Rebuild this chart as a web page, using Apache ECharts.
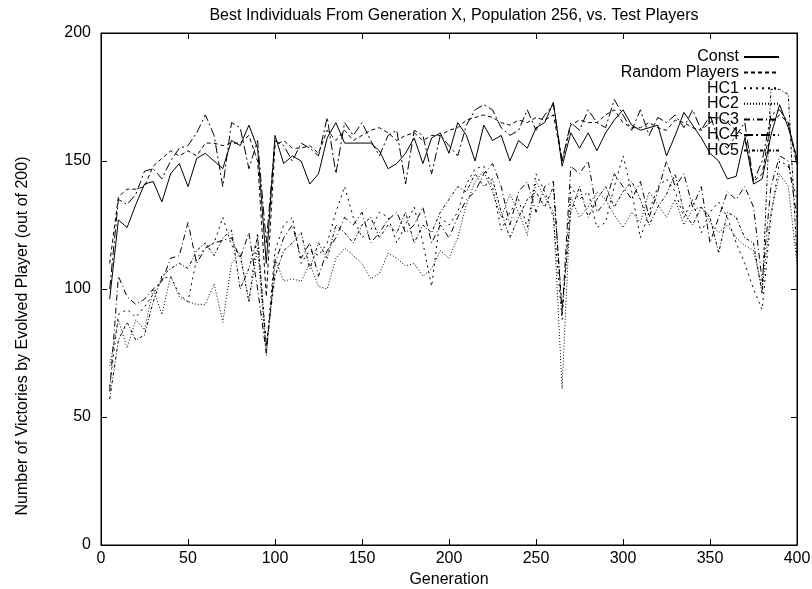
<!DOCTYPE html>
<html>
<head>
<meta charset="utf-8">
<script src="https://cdn.jsdelivr.net/npm/echarts@6/dist/echarts.min.js"></script>
<style>
  html, body { margin: 0; padding: 0; background: #fff; }
  #chart { width: 812px; height: 589px; }
</style>
</head>
<body>
<div id="chart"></div>
<script>
// generation numbers (x)
const gens = [5,10,15,20,25,30,35,40,45,50,55,60,65,70,75,80,85,90,95,100,
  105,110,115,120,125,130,135,140,145,150,155,160,165,170,175,180,185,190,195,200,
  205,210,215,220,225,230,235,240,245,250,255,260,265,270,275,280,285,290,295,300,
  305,310,315,320,325,330,335,340,345,350,355,360,365,370,375,380,385,390,395,400]

const constVals = [96,127,124,133,141,142,134,145,149,140,151,153,150,147,158,156,164,155,110,160,
  149,152,150,141,145,159,165,157,157,157,157,154,147,149,153,159,149,159,161,153,
  165,160,150,164,158,160,150,158,155,163,165,173,148,161,155,161,154,161,166,170,
  164,162,163,164,152,160,169,164,159,153,150,143,144,159,141,143,160,172,163,151]

const randomVals = [110,136,139,139,140,148,151,154,152,154,152,157,157,156,157,157,160,150,97,156,
  158,155,155,156,153,162,158,162,158,160,162,163,161,158,160,161,158,160,160,162,
  163,166,167,168,167,165,164,166,165,167,166,168,150,164,166,165,165,168,170,165,
  163,163,165,163,162,166,165,163,162,165,167,165,162,160,142,145,165,168,165,150]

const hc1Vals = [62,90,92,89,93,98,104,105,98,95,112,116,118,128,117,113,95,122,76,115,
  125,128,110,115,113,118,130,140,128,120,123,130,128,118,125,132,118,101,128,125,
  130,141,147,148,140,123,130,135,124,145,138,128,88,140,135,138,124,126,140,152,
  138,120,130,140,143,138,128,135,122,130,134,128,118,110,100,92,128,150,148,135]

const hc2Vals = [70,88,77,88,84,100,90,105,97,95,94,94,102,87,110,114,95,116,74,112,
  103,104,103,110,101,100,112,116,113,110,104,106,114,112,109,110,105,108,115,112,
  120,133,142,146,138,128,137,130,121,142,136,130,61,136,128,132,138,135,129,124,
  130,126,138,133,128,135,125,131,132,126,122,125,120,117,115,100,130,145,140,110]

const hc3Vals = [60,105,97,94,96,100,103,112,113,126,110,116,118,119,120,112,122,100,75,110,
  120,125,112,118,105,115,120,128,125,130,118,122,127,130,122,125,132,118,125,120,
  128,135,138,145,149,140,125,138,142,130,140,142,90,148,145,150,130,134,145,140,
  135,142,128,138,150,140,145,132,140,118,128,138,135,140,132,103,140,152,150,128]

const hc4Vals = [100,135,133,137,146,147,143,150,155,156,161,168,160,140,165,163,147,158,118,158,
  156,150,157,155,152,167,145,165,160,165,158,152,160,162,141,162,160,145,160,156,
  152,164,170,172,170,163,160,162,170,162,168,172,150,165,162,170,165,163,174,168,
  162,170,160,167,165,168,163,170,162,168,158,155,160,165,142,150,168,170,165,148]

const hc5Vals = [57,80,87,80,82,95,105,108,110,108,115,118,113,120,123,100,108,120,78,105,
  115,118,122,108,118,112,125,122,118,125,128,120,125,122,130,118,125,122,130,135,
  140,138,145,140,143,130,120,128,135,138,132,140,92,130,140,128,135,140,132,138,
  142,135,125,132,137,145,130,125,132,128,114,130,128,120,118,98,178,178,176,112]

const seriesNames = ['Const', 'Random Players', 'HC1', 'HC2', 'HC3', 'HC4', 'HC5']
const seriesVals = [constVals, randomVals, hc1Vals, hc2Vals, hc3Vals, hc4Vals, hc5Vals]
const dashTypes = ['solid', [4, 3], [2, 4], [1, 2], [6, 3, 1, 3], [9, 3, 2, 3], [3, 2, 1, 2]]

const font = 'Liberation Sans, Arial, Helvetica, sans-serif'

let series = seriesNames.map((name, i) => ({
  name: name,
  type: 'line',
  data: gens.map((g, j) => [g, seriesVals[i][j]]),
  symbol: 'none',
  animation: false,
  lineStyle: { color: '#000', width: 1, type: dashTypes[i] },
  itemStyle: { color: '#000' }
}))

// one legend per entry so the text lines up on the right, like gnuplot's key
let legends = seriesNames.map((name, i) => ({
  data: [name],
  right: 32,
  top: 49 + i * 15.6,
  padding: 0,
  align: 'right',
  itemWidth: 35,
  itemHeight: 14,
  selectedMode: false,
  itemStyle: { opacity: 0 },
  textStyle: { fontFamily: font, fontSize: 16, color: '#000' }
}))

const tickStyle = { show: true, inside: true, length: 6, lineStyle: { color: '#000' } }
const lineStyle = { show: true, onZero: false, lineStyle: { color: '#000', width: 1 } }

// mirror axes on top / right: ticks only
function mirrorAxis(pos, max) {
  return {
    type: 'value', min: 0, max: max, interval: 50, position: pos,
    axisLine: lineStyle,
    axisTick: tickStyle,
    axisLabel: { show: false },
    splitLine: { show: false }
  }
}

const option = {
  backgroundColor: '#fff',
  animation: false,
  title: {
    text: 'Best Individuals From Generation X, Population 256, vs. Test Players',
    left: 449,
    textAlign: 'center',
    top: 3,
    textStyle: { fontFamily: font, fontSize: 16, fontWeight: 'normal', color: '#000' }
  },
  legend: legends,
  grid: {
    left: 101, right: 15, top: 33, bottom: 44,
    outerBoundsMode: 'none', containLabel: false,
    show: true, borderColor: '#000', borderWidth: 1
  },
  xAxis: [
    {
      type: 'value', min: 0, max: 400, interval: 50, position: 'bottom',
      name: 'Generation', nameLocation: 'middle', nameGap: 12,
      nameTextStyle: { fontFamily: font, fontSize: 16, color: '#000' },
      axisLine: lineStyle,
      axisTick: tickStyle,
      axisLabel: { fontFamily: font, fontSize: 16, color: '#000', margin: 6 },
      splitLine: { show: false }
    },
    mirrorAxis('top', 400)
  ],
  yAxis: [
    {
      type: 'value', min: 0, max: 200, interval: 50, position: 'left',
      name: 'Number of Victories by Evolved Player (out of 200)', nameLocation: 'middle', nameGap: 70,
      nameTextStyle: { fontFamily: font, fontSize: 16, color: '#000', padding: [0, 94, 0, 0] },
      axisLine: lineStyle,
      axisTick: tickStyle,
      axisLabel: { fontFamily: font, fontSize: 16, color: '#000', margin: 10 },
      splitLine: { show: false }
    },
    mirrorAxis('right', 200)
  ],
  series: series
}

let chart = echarts.init(document.getElementById('chart'))
chart.setOption(option)
</script>
</body>
</html>
